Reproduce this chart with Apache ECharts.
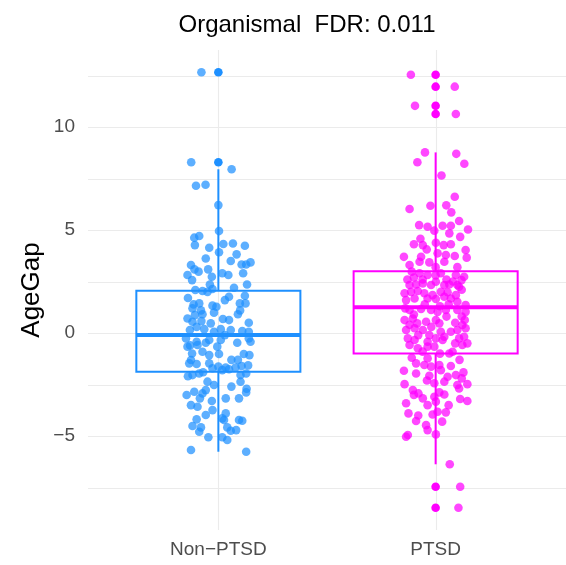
<!DOCTYPE html>
<html><head><meta charset="utf-8">
<script src="https://cdn.jsdelivr.net/npm/echarts@6/dist/echarts.min.js"></script>
<style>html,body{margin:0;padding:0;background:#fff}#c{width:566px;height:565px}</style>
</head><body><div id="c"></div>
<script>
const titleText = 'Organismal  FDR: 0.011';
const yName = 'AgeGap';
const categories = ['Non\u2212PTSD', 'PTSD'];
const categoryPos = [1, 2];
const colors = ['#1E90FF', '#FF00FF'];
const yTicks = [-5, 0, 5, 10];
const yMinorTicks = [-7.5, -2.5, 2.5, 7.5, 12.5];
const yRange = [-9.56, 13.74];
const xRange = [0.4, 2.6];
// low, q1, median, q3, high
const nonPtsdBox = [-5.76, -1.88, -0.1, 2.05, 7.95];
const ptsdBox = [-6.37, -0.99, 1.25, 3.0, 8.77];
const nonPtsdOutliers = [8.29, 12.66];
const ptsdOutliers = [10.63, 11.03, 11.96, 12.54, -7.46, -8.48];
// [jitter offset, AgeGap]
const nonPtsdJitter = [
[-0.078,12.66],[-0.125,8.29],[0.061,7.95],[-0.103,7.15],[-0.059,7.2],[0.0,6.21],
[-0.111,4.63],[-0.088,4.71],[-0.108,4.27],[-0.042,4.14],[0.003,4.95],[0.023,4.32],[0.067,4.35],[0.122,4.24],
[0.084,3.82],[0.003,3.92],[-0.058,3.62],[0.057,3.5],[0.107,3.33],[0.128,3.33],[0.148,3.43],[-0.126,3.3],
[-0.11,3.09],[-0.047,3.09],[-0.142,2.82],[-0.091,2.98],[-0.03,2.73],[0.018,2.9],[0.046,2.82],[0.114,2.9],
[-0.121,2.57],[0.132,2.36],[-0.039,2.36],[-0.106,2.09],[-0.073,2.04],[-0.05,2.0],[-0.027,2.14],[0.072,2.2],
[0.049,1.76],[0.122,1.81],[-0.114,1.39],[-0.088,1.44],[-0.027,1.33],[-0.009,1.28],[0.099,1.44],[0.125,1.44],
[-0.119,1.2],[0.09,0.91],[-0.073,0.91],[-0.108,0.87],[-0.02,0.99],[-0.142,0.71],[0.049,0.63],[0.021,0.68],
[-0.119,0.55],[-0.078,0.58],[-0.035,0.47],[-0.131,0.15],[-0.065,0.19],[0.011,0.19],[0.057,0.15],[0.11,0.1],
[0.14,0.06],[-0.02,0.06],[-0.149,-0.26],[-0.1,-0.42],[-0.042,-0.34],[0.011,-0.34],[0.14,-0.26],
[-0.142,-0.66],[-0.096,-0.58],[-0.058,-0.47],[-0.005,-0.66],[0.087,-0.47],[0.148,-0.42],[-0.121,-0.99],
[-0.073,-0.91],[-0.042,-1.07],[0.003,-1.02],[0.117,-1.02],[0.143,-1.07],[-0.126,-1.31],[-0.134,-1.47],
[-0.1,-1.5],[-0.042,-1.47],[0.0,-1.63],[0.034,-1.67],[0.079,-1.67],[0.107,-1.6],[0.137,-1.57],[-0.027,-1.71],
[0.018,-1.8],[0.049,-1.76],[-0.088,-1.96],[-0.119,-2.04],[0.102,-2.04],[0.128,-1.96],[0.102,-2.36],
[-0.05,-2.36],[-0.02,-2.52],[-0.058,-2.77],[-0.073,-2.93],[-0.146,-3.01],[-0.111,-2.85],[-0.085,-3.17],
[0.034,-3.17],[0.095,-3.17],[0.128,-2.88],[-0.126,-3.5],[-0.096,-3.58],[-0.027,-3.74],[-0.058,-3.98],
[0.034,-3.9],[0.018,-4.14],[0.026,-4.22],[0.095,-4.22],[0.11,-4.26],[-0.1,-4.19],[-0.119,-4.51],[-0.08,-4.58],
[-0.088,-4.79],[0.041,-4.58],[0.057,-4.74],[0.082,-4.71],[-0.046,-5.06],[0.018,-5.06],[0.041,-5.19],
[-0.126,-5.68],[0.128,-5.76],
[-0.14,1.7],[-0.08,1.1],[0.03,1.6],[0.1,1.1],[0.14,0.5],[-0.1,0.3],[0.03,-0.1],[-0.13,-0.6],[0.06,-1.3],
[-0.07,-1.9],[0.09,-1.3],[-0.14,-2.1],[0.13,-2.7],[-0.03,-3.3],[0.06,-2.6]
];
const ptsdJitter = [
[-0.114,12.54],[0.088,11.96],[-0.095,11.03],[0.093,10.63],[-0.049,8.77],[0.095,8.7],[-0.084,8.29],[0.132,8.22],
[0.027,7.65],[0.088,6.62],[-0.12,6.02],[-0.024,6.18],[0.049,6.2],[0.072,5.86],[0.108,5.44],[-0.076,5.24],
[-0.037,5.16],[0.032,5.21],[0.07,5.21],[0.149,5.03],[-0.006,4.97],[-0.07,4.58],[0.063,4.84],[0.113,4.67],
[-0.1,4.31],[-0.059,4.27],[0.001,4.38],[0.037,4.27],[0.07,4.31],[-0.146,3.7],[-0.041,4.06],[-0.067,3.7],
[0.009,3.87],[0.047,3.79],[0.088,3.74],[0.138,4.03],[0.143,3.66],[-0.074,3.46],[-0.029,3.43],[0.04,3.46],
[-0.11,2.98],[-0.074,2.9],[-0.037,2.82],[0.024,2.9],[0.093,2.82],[0.131,2.73],[-0.12,2.33],[-0.09,2.36],
[-0.059,2.41],[-0.021,2.33],[0.001,2.49],[0.04,2.33],[0.063,2.36],[0.1,2.33],[0.119,2.57],[-0.143,1.93],
[-0.113,2.0],[-0.082,2.04],[-0.052,1.93],[-0.014,1.84],[0.024,2.0],[0.055,1.98],[0.093,1.84],[0.108,2.25],
[-0.136,1.6],[-0.097,1.68],[-0.037,1.68],[0.001,1.65],[0.04,1.76],[0.07,1.68],[0.1,1.52],[0.138,1.36],
[-0.12,1.12],[-0.067,1.17],[-0.021,1.12],[0.009,1.03],[0.047,1.12],[0.1,1.12],[0.138,1.03],[-0.143,0.63],
[-0.105,0.71],[-0.085,0.47],[-0.044,0.55],[0.001,0.63],[0.017,0.47],[0.134,0.63],[0.123,0.39],[-0.136,0.15],
[-0.097,0.23],[-0.059,0.15],[-0.029,-0.1],[0.024,0.06],[0.04,-0.18],[0.07,0.06],[0.1,0.15],[0.138,0.23],
[-0.128,-0.26],[-0.097,-0.34],[-0.037,-0.42],[0.001,-0.26],[0.032,-0.34],[0.108,-0.26],[0.131,-0.18],
[-0.12,-0.58],[-0.082,-0.74],[-0.037,-0.66],[-0.006,-0.66],[0.123,-0.58],[0.146,-0.5],[0.063,-0.99],
[0.078,-0.91],[-0.037,-1.23],[-0.09,-1.47],[-0.052,-1.55],[-0.021,-1.63],[0.017,-1.55],[0.024,-1.8],
[-0.146,-1.83],[-0.09,-1.96],[-0.029,-2.07],[0.055,-2.12],[0.093,-2.04],[0.128,-1.91],[-0.143,-2.48],
[-0.006,-2.44],[0.04,-2.36],[0.1,-2.52],[0.146,-2.48],[-0.105,-2.77],[-0.079,-2.93],[0.017,-2.88],
[0.04,-2.98],[0.108,-2.69],[-0.059,-3.17],[-0.006,-3.09],[0.001,-3.33],[0.113,-3.2],[0.146,-3.3],
[-0.136,-3.41],[-0.037,-3.5],[-0.125,-3.9],[-0.014,-3.95],[0.009,-3.82],[0.047,-3.85],[-0.09,-4.27],
[-0.044,-4.47],[-0.037,-4.71],[-0.128,-4.95],[-0.136,-5.03],[0.001,-4.92],[0.065,-6.37],[0.113,-7.46],
[0.105,-8.48],
[-0.13,2.6],[-0.1,2.7],[-0.06,2.6],[0.0,2.8],[0.05,2.6],[0.08,2.5],[0.12,2.1],[-0.14,1.2],[-0.1,0.9],
[-0.05,1.4],[0.02,1.3],[0.06,1.4],[0.12,0.8],[0.09,0.5],[-0.12,0.4],[-0.02,0.3],[0.05,0.8],[-0.08,-0.1],
[0.09,-0.5],[-0.06,-0.9],[0.02,-1.0],[0.11,-1.3],[-0.11,-1.2],[0.07,-1.6],[-0.04,-2.3],[0.12,-2.2],
[-0.1,-3.0],[0.06,-3.5],[-0.08,-4.0],[0.03,-4.3],[0.1,3.2],[-0.12,3.3],[0.0,3.2]
];

const FONT = '"Liberation Sans", Arial, Helvetica, sans-serif';
const GRID_COLOR = '#EBEBEB';
const chart = echarts.init(document.getElementById('c'), null, {renderer: 'canvas'});

const boxRows = [nonPtsdBox, ptsdBox].map((s, i) => [categoryPos[i]].concat(s));
const gridH = yTicks.concat(yMinorTicks).map(v => [v]);
const gridV = categoryPos.map(v => [v]);

function jitterData(arr, pos) { return arr.map(d => [pos + d[0], d[1]]); }
function outlierData(arr, pos) { return arr.map(v => [pos, v]); }

chart.setOption({
  animation: false,
  backgroundColor: '#ffffff',
  textStyle: {fontFamily: FONT},
  title: {
    text: titleText, left: 302, top: 8, textAlign: 'center',
    textStyle: {fontFamily: FONT, fontSize: 24, fontWeight: 'normal', color: '#000'}
  },
  grid: {left: 88, right: 0, top: 50, bottom: 35, containLabel: false},
  xAxis: {
    type: 'value', min: xRange[0], max: xRange[1],
    axisLine: {show: false}, axisTick: {show: false}, splitLine: {show: false},
    axisLabel: {
      customValues: categoryPos, fontSize: 19, color: '#4D4D4D', margin: 10, fontFamily: FONT,
      formatter: v => categories[categoryPos.indexOf(Math.round(v))]
    }
  },
  yAxis: {
    type: 'value', min: yRange[0], max: yRange[1],
    axisLine: {show: false}, axisTick: {show: false}, splitLine: {show: false},
    axisLabel: {
      customValues: yTicks, fontSize: 19, color: '#4D4D4D', margin: 13, fontFamily: FONT,
      formatter: v => String(v).replace('-', '\u2212')
    },
    name: yName, nameLocation: 'middle', nameGap: 43, nameRotate: 90, nameMoveOverlap: false,
    nameTextStyle: {fontSize: 26, color: '#000', fontFamily: FONT}
  },
  series: [
    {
      type: 'custom', z: 0, silent: true, data: gridH,
      encode: {y: 0},
      renderItem: (params, api) => {
        const cs = params.coordSys;
        const y = Math.round(api.coord([1, api.value(0)])[1]) + 0.5;
        return {type: 'line', shape: {x1: cs.x, y1: y, x2: cs.x + cs.width, y2: y},
          style: {stroke: GRID_COLOR, lineWidth: 1.1}};
      }
    },
    {
      type: 'custom', z: 0, silent: true, data: gridV,
      encode: {x: 0},
      renderItem: (params, api) => {
        const cs = params.coordSys;
        const x = Math.round(api.coord([api.value(0), 0])[0]) + 0.5;
        return {type: 'line', shape: {x1: x, y1: cs.y, x2: x, y2: cs.y + cs.height},
          style: {stroke: GRID_COLOR, lineWidth: 1.1}};
      }
    },
    {
      type: 'scatter', z: 2, silent: true, symbolSize: 8.6,
      data: jitterData(nonPtsdJitter, categoryPos[0]),
      itemStyle: {color: colors[0], opacity: 0.72}
    },
    {
      type: 'scatter', z: 2, silent: true, symbolSize: 8.6,
      data: jitterData(ptsdJitter, categoryPos[1]),
      itemStyle: {color: colors[1], opacity: 0.72}
    },
    {
      type: 'custom', z: 3, silent: true, data: boxRows,
      encode: {x: 0, y: [1, 2, 3, 4, 5]},
      renderItem: (params, api) => {
        const x = api.value(0);
        const low = api.coord([x, api.value(1)]);
        const q1 = api.coord([x, api.value(2)]);
        const med = api.coord([x, api.value(3)]);
        const q3 = api.coord([x, api.value(4)]);
        const high = api.coord([x, api.value(5)]);
        const w = api.size([0.755, 0])[0];
        const c = colors[params.dataIndex];
        return {type: 'group', children: [
          {type: 'line', shape: {x1: low[0], y1: low[1], x2: q1[0], y2: q1[1]}, style: {stroke: c, lineWidth: 2}},
          {type: 'line', shape: {x1: q3[0], y1: q3[1], x2: high[0], y2: high[1]}, style: {stroke: c, lineWidth: 2}},
          {type: 'rect', shape: {x: q1[0] - w / 2, y: q3[1], width: w, height: q1[1] - q3[1]},
            style: {fill: 'none', stroke: c, lineWidth: 2}},
          {type: 'line', shape: {x1: med[0] - w / 2, y1: med[1], x2: med[0] + w / 2, y2: med[1]},
            style: {stroke: c, lineWidth: 4}}
        ]};
      }
    },
    {
      type: 'scatter', z: 4, silent: true, symbolSize: 8.6,
      data: outlierData(nonPtsdOutliers, categoryPos[0]),
      itemStyle: {color: colors[0], opacity: 1}
    },
    {
      type: 'scatter', z: 4, silent: true, symbolSize: 8.6,
      data: outlierData(ptsdOutliers, categoryPos[1]),
      itemStyle: {color: colors[1], opacity: 1}
    }
  ]
});
</script>
</body></html>
